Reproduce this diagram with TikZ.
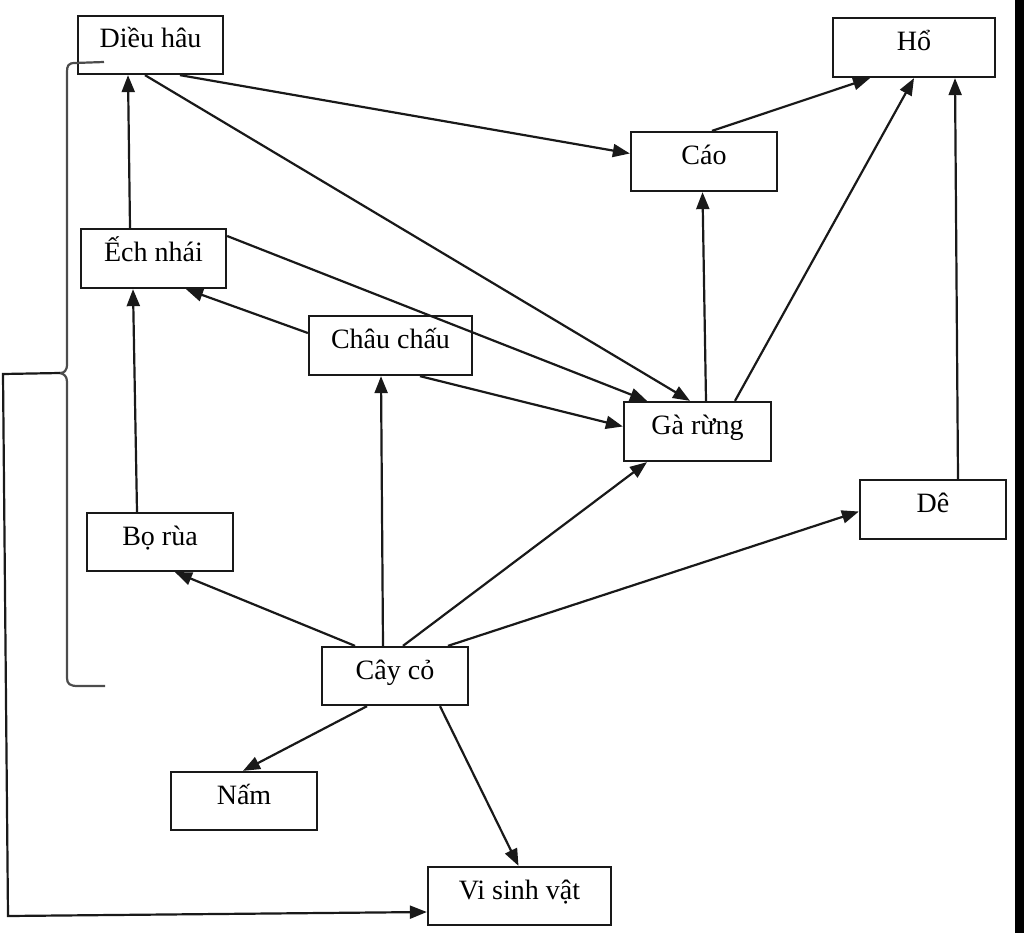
\documentclass[tikz,border=0pt]{standalone}
\usepackage{fontspec}
\setmainfont{Liberation Serif}
\usetikzlibrary{arrows.meta,calc}
\begin{document}
\begin{tikzpicture}[x=1pt,y=-1pt,
  box/.style={draw=black!90,line width=2.3pt,inner sep=0pt,
    font=\fontsize{28pt}{30pt}\selectfont,text height=19pt,text depth=13pt},
  conn/.style={draw=black!90,line width=2.2pt,-{Triangle[length=17pt,width=13pt]}},
  bracestyle/.style={draw=black!70,line width=2.2pt}]
\useasboundingbox (0,0) rectangle (1024,933);
\fill[black] (1015,-2) rectangle (1026,935);
% nodes
\node[box,minimum width=145pt,minimum height=58pt] (dieu) at (150.5,45) {Diều hâu};
\node[box,minimum width=162pt,minimum height=59pt] (ho) at (914,47.5) {Hổ};
\node[box,minimum width=146pt,minimum height=59pt] (cao) at (704,161.5) {Cáo};
\node[box,minimum width=145pt,minimum height=59pt] (ech) at (153.5,258.5) {Ếch nhái};
\node[box,minimum width=163pt,minimum height=59pt] (chau) at (390.5,345.5) {Châu chấu};
\node[box,minimum width=147pt,minimum height=59pt] (ga) at (697.5,431.5) {Gà rừng};
\node[box,minimum width=146pt,minimum height=59pt] (de) at (933,509.5) {Dê};
\node[box,minimum width=146pt,minimum height=58pt] (bo) at (160,542) {Bọ rùa};
\node[box,minimum width=146pt,minimum height=58pt] (cay) at (395,676) {Cây cỏ};
\node[box,minimum width=146pt,minimum height=58pt] (nam) at (244,801) {Nấm};
\node[box,minimum width=183pt,minimum height=58pt] (vsv) at (519.5,896) {Vi sinh vật};
% connectors
\draw[conn] ($(ech.north)+(-23.5,0)$) -- ($(dieu.south)+(-22.5,0)$);
\draw[conn] ($(dieu.south)+(29.5,0)$) -- ($(cao.west)+(0,-8)$);
\draw[conn] ($(dieu.south)+(-5.5,0)$) -- ($(ga.north)+(-7.5,0)$);
\draw[conn] ($(ech.east)+(0,-22.5)$) -- ($(ga.north)+(-50.5,0)$);
\draw[conn] ($(chau.west)+(0,-12.5)$) -- ($(ech.south)+(32.5,0)$);
\draw[conn] ($(chau.south)+(29.5,0)$) -- ($(ga.west)+(0,-5)$);
\draw[conn] ($(ga.north)+(8.5,0)$) -- ($(cao.south)+(-1.5,0)$);
\draw[conn] ($(ga.north)+(37.5,0)$) -- ($(ho.south)+(0,0)$);
\draw[conn] ($(cao.north)+(8,0)$) -- ($(ho.south)+(-44,0)$);
\draw[conn] ($(de.north)+(25,0)$) -- ($(ho.south)+(41,0)$);
\draw[conn] ($(bo.north)+(-23,0)$) -- ($(ech.south)+(-20.5,0)$);
\draw[conn] ($(cay.north)+(-40,0)$) -- ($(bo.south)+(15,0)$);
\draw[conn] ($(cay.north)+(-12,0)$) -- ($(chau.south)+(-9.5,0)$);
\draw[conn] ($(cay.north)+(8,0)$) -- ($(ga.south)+(-50.5,0)$);
\draw[conn] ($(cay.north)+(53,0)$) -- ($(de.west)+(0,2)$);
\draw[conn] ($(cay.south)+(-28,0)$) -- ($(nam.north)+(-1,0)$);
\draw[conn] ($(cay.south)+(45,0)$) -- ($(vsv.north)+(-1,0)$);
% brace
\coordinate (btip) at (60,373);
\draw[bracestyle] (104,62) -- (75,63) .. controls (68,63) and (67,66) .. (67,72)
  -- (67,364) .. controls (67,371) and (64,373) .. (btip)
  .. controls (64,374) and (67,376) .. (67,382)
  -- (67,678) .. controls (67,684) and (70,686) .. (78,686) -- (105,686);
\draw[conn] (btip) -- (3,374) -- (8,916) -- ($(vsv.west)+(0,16)$);
\end{tikzpicture}
\end{document}
